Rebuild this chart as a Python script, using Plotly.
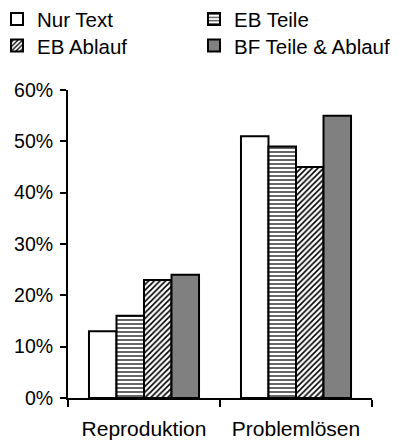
import plotly.graph_objects as go

categories = ["Reproduktion", "Problemlösen"]
series_names = ["Nur Text", "EB Teile", "EB Ablauf", "BF Teile & Ablauf"]
nur_text = [0.13, 0.51]
eb_teile = [0.16, 0.49]
eb_ablauf = [0.23, 0.45]
bf_teile_ablauf = [0.24, 0.55]
y_ticks = [0, 0.1, 0.2, 0.3, 0.4, 0.5, 0.6]
y_tick_labels = ["0%", "10%", "20%", "30%", "40%", "50%", "60%"]

FONT = "Liberation Sans, Arial, sans-serif"

styles = [
    dict(color="white", pattern=None, legend="legend", lx=-0.2336, ly=1.2948),
    dict(color="white", pattern=dict(shape="-", size=4, solidity=0.3, fgcolor="black", bgcolor="white", fgopacity=1),
         legend="legend2", lx=0.4144, ly=1.2948),
    dict(color="white", pattern=dict(shape="/", size=4, solidity=0.4, fgcolor="black", bgcolor="white", fgopacity=1),
         legend="legend3", lx=-0.2336, ly=1.2087),
    dict(color="#808080", pattern=None, legend="legend4", lx=0.4144, ly=1.2087),
]

fig = go.Figure()
legends = {}
for name, vals, st in zip(series_names, [nur_text, eb_teile, eb_ablauf, bf_teile_ablauf], styles):
    marker = dict(color=st["color"], line=dict(color="black", width=2))
    if st["pattern"]:
        marker["pattern"] = st["pattern"]
    fig.add_trace(go.Bar(name=name, x=categories, y=vals, marker=marker, legend=st["legend"]))
    legends[st["legend"]] = dict(
        x=st["lx"], y=st["ly"], orientation="v", xref="paper", yref="paper",
        xanchor="left", yanchor="top",
        font=dict(family=FONT, size=20.5, color="black"),
        bgcolor="rgba(0,0,0,0)",
    )

fig.update_layout(
    width=395, height=433,
    margin=dict(l=60, r=31, t=82, b=43, autoexpand=False),
    paper_bgcolor="white", plot_bgcolor="white",
    font=dict(family=FONT, size=19.5, color="black"),
    barmode="group", bargap=0.276, bargroupgap=0,
    showlegend=True,
    xaxis=dict(
        showline=True, linecolor="black", linewidth=2,
        ticks="outside", tickson="boundaries", ticklen=7, tickwidth=2, tickcolor="black",
        showgrid=False, zeroline=False, ticklabelstandoff=11,
        tickfont=dict(size=21),
    ),
    yaxis=dict(
        range=[0, 0.6], tickvals=y_ticks, ticktext=y_tick_labels,
        showline=True, linecolor="black", linewidth=2,
        ticks="outside", ticklen=6, tickwidth=2, tickcolor="black",
        showgrid=False, zeroline=False, ticklabelstandoff=3,
        tickfont=dict(size=19.5),
    ),
    **legends,
)

fig.write_html("out.html")
